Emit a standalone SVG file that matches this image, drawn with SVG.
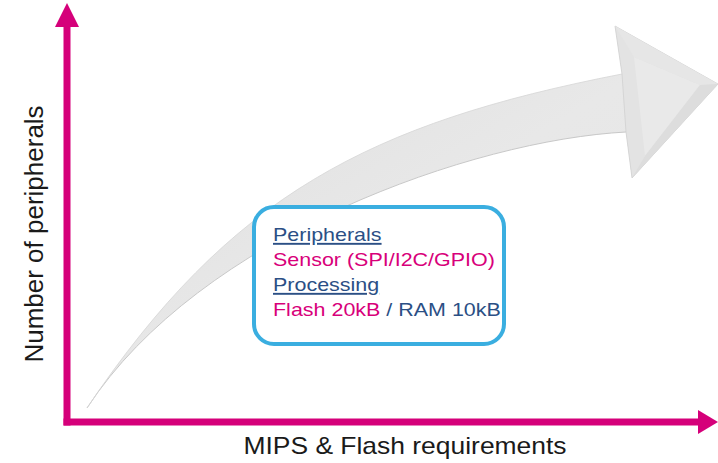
<svg xmlns="http://www.w3.org/2000/svg" width="718" height="463" viewBox="0 0 718 463">
  <style>
    .axis { fill: #d5007a; }
    .label { font-family: "Liberation Sans", Arial, sans-serif; fill: #1a1a1a; }
    .box-text { font-family: "Liberation Sans", Arial, sans-serif; font-size: 19px; }
    .blue { fill: #2b4f85; }
    .pink { fill: #d8007a; }
    .ul { text-decoration: underline; }
  </style>
  <defs>
    <linearGradient id="shaftFill" x1="0" y1="0" x2="1" y2="1">
      <stop offset="0" stop-color="#dcdcdc"/>
      <stop offset="0.5" stop-color="#e8e8e8"/>
      <stop offset="1" stop-color="#e4e4e4"/>
    </linearGradient>
  </defs>

  <rect width="718" height="463" fill="#ffffff"/>

  <!-- curved growth arrow -->
  <g id="growth-arrow">
    <path d="M87 408 C230 195 370 123 622 74 L615 26 L718 84 L632 178 L626 132 C474 140 200 235 87 408 Z" fill="url(#shaftFill)"/>
    <path d="M626 132 C474 140 200 235 87 408" fill="none" stroke="#c8c8c8" stroke-width="1"/>
    <path d="M87 408 C230 195 370 123 622 74" fill="none" stroke="#d6d6d6" stroke-width="0.8"/>
    <polygon points="615,26 718,84 632,178 626,132 622,74" fill="#e3e3e3" stroke="#d0d0d0" stroke-width="0.8"/>
    <polygon points="634,57 700,85 645,156" fill="#e9e9e9"/>
    <polygon points="615,26 634,57 700,85 718,84" fill="#e6e6e6"/>
    <polygon points="632,178 645,156 700,85 718,84" fill="#dddddd"/>
  </g>

  <!-- axes -->
  <g id="axes">
    <rect class="axis" x="63.5" y="26" width="7" height="399.5"/>
    <polygon class="axis" points="55,27 67,3 79,27"/>
    <rect class="axis" x="63.5" y="418.5" width="635" height="7"/>
    <polygon class="axis" points="698,410 718,422 698,434"/>
  </g>

  <g id="y-label">
    <text class="label" font-size="26" text-anchor="middle" transform="translate(43,234) rotate(-90)">Number of peripherals</text>
  </g>

  <g id="x-label">
    <text class="label" font-size="23" text-anchor="middle" transform="translate(405,454) scale(1.15,1)">MIPS &amp; Flash requirements</text>
  </g>

  <!-- requirements box -->
  <g id="requirements">
    <rect x="254" y="207" width="250" height="137" rx="20" ry="20" fill="#ffffff" stroke="#3aaee0" stroke-width="4"/>
    <g class="box-text" transform="translate(273,0) scale(1.13,1)">
      <text class="blue ul" x="0" y="241">Peripherals</text>
      <text class="pink" x="0" y="266">Sensor (SPI/I2C/GPIO)</text>
      <text class="blue ul" x="0" y="291">Processing</text>
      <text x="0" y="316"><tspan class="pink">Flash 20kB</tspan><tspan class="blue"> / RAM 10kB</tspan></text>
    </g>
  </g>
</svg>
